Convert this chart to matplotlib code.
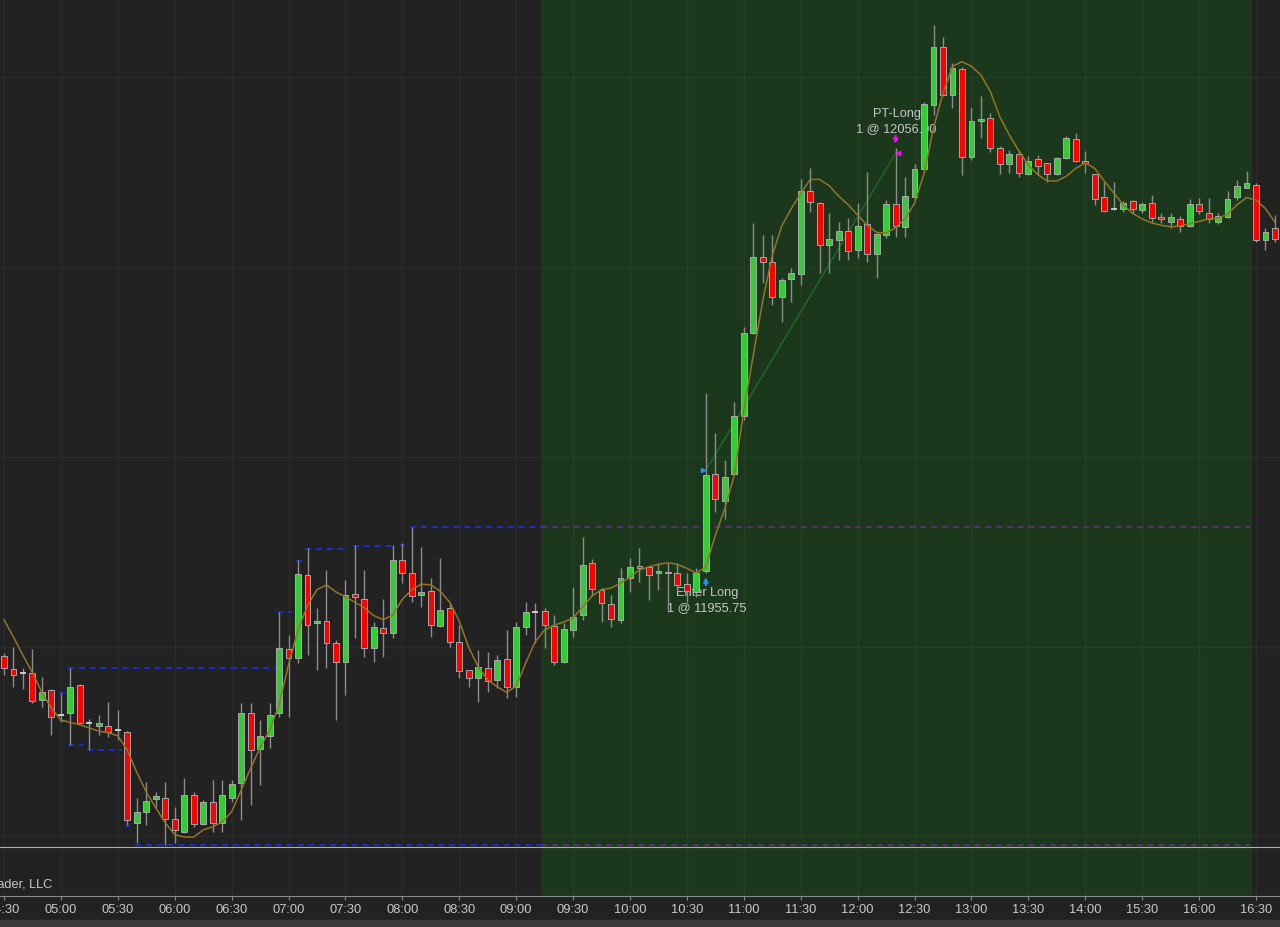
import numpy as np
import matplotlib.pyplot as plt

# 5-minute bars, OHLC
opens = [11897.0, 11893.0, 11891.75, 11891.75, 11883.0, 11886.25, 11878.25, 11879.0, 11887.75, 11875.75,
         11875.0, 11875.0, 11873.5, 11873.0, 11844.25, 11847.75, 11851.75, 11852.0, 11845.5, 11841.25,
         11853.0, 11844.0, 11850.75, 11844.25, 11852.0, 11856.75, 11879.0, 11867.5, 11871.75, 11879.0,
         11899.25, 11896.25, 11922.5, 11907.5, 11908.0, 11901.0, 11895.0, 11916.5, 11915.0, 11899.5,
         11906.0, 11904.25, 11927.25, 11923.25, 11916.25, 11917.5, 11906.5, 11912.25, 11901.5, 11892.5,
         11890.0, 11893.25, 11889.5, 11896.0, 11887.25, 11906.25, 11911.0, 11911.25, 11906.5, 11895.0,
         11905.25, 11910.0, 11926.5, 11918.0, 11913.5, 11908.5, 11921.75, 11925.5, 11925.25, 11923.25,
         11923.5, 11923.25, 11919.75, 11917.25, 11924.0, 11954.5, 11946.0, 11954.5, 11973.0, 11999.25,
         12023.25, 12021.75, 12010.5, 12016.25, 12017.75, 12044.0, 12040.25, 12027.0, 12028.5, 12031.5,
         12025.5, 12033.75, 12024.25, 12030.25, 12040.0, 12032.75, 12042.25, 12051.0, 12071.25, 12089.75,
         12074.5, 12082.75, 12054.75, 12066.25, 12067.25, 12057.75, 12052.75, 12055.75, 12049.5, 12054.25,
         12053.0, 12049.5, 12054.5, 12060.5, 12053.5, 12049.5, 12042.25, 12038.5, 12038.5, 12041.0,
         12038.0, 12040.25, 12035.75, 12034.25, 12035.25, 12033.0, 12040.0, 12037.25, 12034.25, 12035.75,
         12042.25, 12045.0, 12046.0, 12028.5, 12032.5]
highs = [11898.0, 11899.75, 11893.25, 11899.25, 11890.25, 11886.5, 11885.25, 11893.25, 11888.25, 11877.0,
         11878.25, 11882.5, 11880.0, 11873.25, 11852.0, 11857.25, 11854.0, 11857.25, 11849.25, 11858.5,
         11854.0, 11851.5, 11857.75, 11857.75, 11857.75, 11882.25, 11882.25, 11876.75, 11882.25, 11911.0,
         11903.75, 11927.25, 11931.25, 11912.25, 11924.25, 11902.0, 11921.0, 11932.0, 11924.25, 11907.75,
         11915.0, 11932.0, 11932.75, 11937.75, 11931.5, 11921.75, 11928.0, 11913.75, 11906.75, 11892.5,
         11899.0, 11898.25, 11897.25, 11905.25, 11907.75, 11914.0, 11913.75, 11912.25, 11910.0, 11907.5,
         11918.75, 11934.75, 11927.75, 11918.5, 11916.25, 11924.75, 11928.0, 11931.25, 11925.5, 11926.5,
         11926.5, 11926.5, 11923.25, 11924.75, 11980.25, 11967.5, 11959.0, 11977.25, 12001.0, 12034.0,
         12030.25, 12030.25, 12016.5, 12019.75, 12047.75, 12051.25, 12040.5, 12037.0, 12034.25, 12035.5,
         12040.25, 12050.0, 12030.75, 12041.25, 12057.75, 12048.5, 12052.75, 12072.25, 12096.5, 12092.75,
         12084.5, 12083.25, 12070.75, 12074.25, 12068.75, 12058.25, 12057.0, 12057.0, 12055.25, 12055.5,
         12053.0, 12054.75, 12061.5, 12062.5, 12056.75, 12049.5, 12047.0, 12047.0, 12041.0, 12041.25,
         12040.5, 12042.75, 12037.25, 12037.25, 12036.25, 12041.5, 12042.0, 12042.0, 12037.25, 12044.0,
         12047.5, 12050.5, 12046.5, 12032.5, 12036.5]
lows = [11891.0, 11887.25, 11886.5, 11882.25, 11881.0, 11872.0, 11876.0, 11869.0, 11875.5, 11867.25,
        11872.0, 11871.5, 11870.5, 11843.5, 11837.75, 11843.5, 11849.25, 11837.25, 11837.75, 11841.0,
        11843.0, 11843.5, 11841.25, 11841.25, 11850.75, 11845.25, 11850.0, 11856.25, 11868.0, 11877.75,
        11877.75, 11894.75, 11897.25, 11892.5, 11893.25, 11876.75, 11884.75, 11902.75, 11896.75, 11895.0,
        11896.75, 11902.75, 11920.0, 11914.0, 11912.5, 11903.0, 11906.25, 11899.75, 11890.0, 11887.25,
        11882.5, 11885.5, 11887.0, 11883.75, 11884.0, 11903.75, 11901.0, 11899.5, 11894.25, 11894.75,
        11903.0, 11908.5, 11916.25, 11907.75, 11906.25, 11907.5, 11917.25, 11920.5, 11914.75, 11918.0,
        11911.0, 11917.25, 11914.0, 11915.75, 11923.25, 11942.5, 11940.25, 11954.25, 11971.75, 11999.0,
        12015.0, 12008.0, 12002.75, 12009.0, 12014.25, 12037.5, 12018.25, 12018.25, 12022.25, 12022.25,
        12023.0, 12021.75, 12016.5, 12029.25, 12029.5, 12029.5, 12041.25, 12050.0, 12068.0, 12074.25,
        12070.25, 12049.25, 12054.0, 12060.75, 12056.5, 12049.5, 12049.75, 12048.5, 12049.25, 12049.25,
        12047.0, 12049.25, 12054.25, 12053.25, 12049.75, 12039.75, 12037.5, 12038.0, 12037.5, 12037.25,
        12037.25, 12034.0, 12034.0, 12032.5, 12031.0, 12032.75, 12036.75, 12034.0, 12033.75, 12035.5,
        12041.25, 12045.0, 12028.0, 12025.5, 12028.0]
closes = [11893.25, 11891.0, 11891.75, 11882.75, 11885.5, 11877.75, 11878.25, 11887.25, 11875.75, 11875.75,
          11875.75, 11873.0, 11873.5, 11845.25, 11847.75, 11851.25, 11852.75, 11845.5, 11842.0, 11853.0,
          11844.0, 11850.75, 11844.25, 11853.0, 11856.5, 11879.0, 11867.25, 11871.75, 11878.25, 11899.5,
          11896.25, 11923.0, 11906.75, 11908.0, 11901.0, 11895.0, 11916.25, 11915.75, 11899.5, 11906.25,
          11904.25, 11927.25, 11923.25, 11916.0, 11917.25, 11906.75, 11911.5, 11901.5, 11892.25, 11890.0,
          11893.5, 11889.0, 11895.75, 11887.25, 11906.25, 11911.0, 11911.0, 11906.75, 11895.0, 11905.5,
          11909.25, 11925.75, 11918.25, 11913.75, 11908.75, 11921.75, 11925.25, 11924.75, 11922.5, 11924.0,
          11923.25, 11919.5, 11917.5, 11923.25, 11954.25, 11946.75, 11953.5, 11973.0, 11999.25, 12023.25,
          12021.75, 12010.5, 12016.0, 12018.25, 12044.0, 12040.5, 12027.0, 12029.0, 12031.5, 12025.0,
          12033.0, 12024.25, 12030.5, 12040.0, 12033.0, 12042.5, 12051.0, 12071.5, 12089.75, 12074.5,
          12083.0, 12054.75, 12066.25, 12066.75, 12057.75, 12052.75, 12055.75, 12049.75, 12053.5, 12052.0,
          12049.5, 12054.5, 12060.75, 12053.5, 12053.0, 12041.5, 12037.75, 12038.5, 12040.25, 12038.5,
          12040.0, 12035.5, 12035.25, 12035.75, 12033.0, 12040.0, 12037.75, 12035.25, 12036.25, 12041.5,
          12045.75, 12046.5, 12028.5, 12031.0, 12029.0]

# moving average line as drawn on the chart
ma_values = [11908.5, 11903.0, 11897.25, 11891.75, 11885.5, 11880.5, 11876.75, 11876.0, 11875.25, 11874.25,
             11873.25, 11872.75, 11871.75, 11867.25, 11860.25, 11854.0, 11849.0, 11844.25, 11840.5, 11839.75,
             11839.75, 11842.0, 11843.0, 11844.5, 11847.75, 11854.5, 11861.5, 11868.0, 11873.5, 11881.5,
             11894.25, 11905.25, 11913.0, 11918.0, 11919.5, 11917.25, 11915.75, 11914.0, 11912.25, 11909.75,
             11908.5, 11910.0, 11915.0, 11918.0, 11919.75, 11919.5, 11917.5, 11914.0, 11908.0, 11899.75,
             11893.5, 11889.5, 11887.25, 11885.5, 11887.5, 11894.75, 11901.5, 11905.25, 11906.75, 11907.75,
             11909.0, 11912.5, 11916.0, 11918.0, 11918.5, 11920.0, 11922.0, 11924.25, 11925.25, 11926.0,
             11926.5, 11926.0, 11924.75, 11923.25, 11925.25, 11935.25, 11943.75, 11954.25, 11974.75, 11992.25,
             12009.5, 12023.75, 12033.0, 12038.5, 12043.25, 12047.75, 12047.75, 12045.75, 12042.5, 12039.75,
             12036.5, 12033.25, 12031.0, 12030.75, 12032.5, 12035.25, 12040.25, 12049.5, 12064.0, 12075.0,
             12083.5, 12085.0, 12083.5, 12080.75, 12075.5, 12067.5, 12061.75, 12056.75, 12052.25, 12049.25,
             12047.25, 12047.25, 12048.75, 12051.25, 12053.0, 12051.25, 12047.25, 12043.5, 12039.75, 12037.0,
             12035.25, 12034.0, 12033.25, 12032.75, 12033.0, 12033.75, 12034.5, 12035.25, 12035.5, 12036.75,
             12039.75, 12042.0, 12041.25, 12038.5, 12034.25]

time_labels = ['04:30', '05:00', '05:30', '06:00', '06:30', '07:00', '07:30', '08:00', '08:30', '09:00',
               '09:30', '10:00', '10:30', '11:00', '11:30', '12:00', '12:30', '13:00', '13:30', '14:00',
               '15:30', '16:00', '16:30']

# swing lines: (first bar, last bar, price)
swing_lines = [(5.8, 6.4, 11885.25), (5.8, 6.4, 11876.5), (6.7, 29.1, 11893.25), (6.7, 8.3, 11869.0),
               (8.8, 12.4, 11867.25), (12.8, 13.3, 11843.25), (13.8, 131.4, 11837.25), (28.8, 30.4, 11911.0),
               (30.8, 31.4, 11927.0), (31.7, 36.3, 11930.75), (36.8, 41.2, 11931.75), (41.8, 42.3, 11932.25),
               (42.8, 131.4, 11937.75)]

grid_prices = [11840, 11900, 11960, 12020, 12080]
session_start, session_end = 56.6, 131.55

entry_bar, entry_price = 74, 11955.75
exit_bar, exit_price = 94, 12056.00

BG = '#222222'
GREEN_BG = '#1c381c'
TXT = '#c8c8c8'

o = np.array(opens); h = np.array(highs); l = np.array(lows); c = np.array(closes)
x = np.arange(len(o))

fig = plt.figure(figsize=(12.8, 9.27), dpi=100, facecolor=BG)
fig.patches.append(plt.Rectangle((0, 0), 1, 7 / 927, transform=fig.transFigure,
                                 color='#3a3a3a', zorder=0))
ax = fig.add_axes([0, 31 / 927, 1, 896 / 927])
ax.set_facecolor(BG)
ax.set_xlim(-0.42, 134.53)
ax.set_ylim(11821.1, 12104.5)

ax.axvspan(session_start, session_end, color=GREEN_BG, zorder=0, lw=0)
for gp in grid_prices:
    ax.axhline(gp, color='white', alpha=0.04, lw=1, zorder=1)
ax.axhline(11836.5, color='#b0b0b0', lw=0.8, zorder=2)

# swing lines, blue on dark, purple inside the session shading
def draw_swing(x0, x1, y):
    parts = []
    if x0 < session_start:
        parts.append((x0, min(x1, session_start), '#1c2cc4'))
    if x1 > session_start:
        parts.append((max(x0, session_start), x1, '#5e2a74'))
    for a, b, col in parts:
        ax.plot([a, b], [y, y], color=col, lw=1.5, ls=(0, (3, 2.2)), zorder=2)

for x0, x1, y in swing_lines:
    draw_swing(x0, x1, y)

# candles
up = c > o
dn = c < o
flat = c == o
ax.vlines(x, l, h, color='#8c8c8c', lw=1, zorder=3)
ax.bar(x[up], (c - o)[up], bottom=o[up], width=0.62, color='#32cd32',
       edgecolor='#a8a8a8', lw=0.7, zorder=4)
ax.bar(x[dn], (o - c)[dn], bottom=c[dn], width=0.62, color='#ff0000',
       edgecolor='#a8a8a8', lw=0.7, zorder=4)
ax.hlines(c[flat], x[flat] - 0.32, x[flat] + 0.32, color='#d8d8d8', lw=1.3, zorder=4)

ax.plot(x, ma_values, color='#937526', lw=1.1, zorder=5)

# trade
ax.plot([entry_bar, exit_bar], [entry_price, exit_price], color='#1d6a28', lw=1, zorder=2)
ax.plot(entry_bar - 0.3, entry_price, marker='>', ms=3, color='#1e90ff', zorder=6)
ax.plot(exit_bar + 0.3, exit_price, marker='<', ms=3, color='#ff00ff', zorder=6)
ax.annotate('', xy=(entry_bar, lows[entry_bar]), xytext=(0, -12), textcoords='offset pixels',
            arrowprops=dict(arrowstyle='-|>', color='#1e90ff', lw=1.5, mutation_scale=6,
                            shrinkA=0, shrinkB=3), zorder=6)
ax.annotate('', xy=(exit_bar, highs[exit_bar]), xytext=(0, 12), textcoords='offset pixels',
            arrowprops=dict(arrowstyle='-|>', color='#ff00ff', lw=1.5, mutation_scale=6,
                            shrinkA=0, shrinkB=3), zorder=6)
ax.annotate('Enter Long', xy=(entry_bar, lows[entry_bar]), xytext=(1, -20), textcoords='offset pixels',
            ha='center', va='center', color=TXT, fontsize=9.2, family='Liberation Sans', zorder=2)
ax.annotate('1 @ %.2f' % entry_price, xy=(entry_bar, lows[entry_bar]), xytext=(1, -35),
            textcoords='offset pixels', ha='center', va='center', color=TXT, fontsize=9.2,
            family='Liberation Sans', zorder=2)
ax.annotate('PT-Long', xy=(exit_bar, highs[exit_bar]), xytext=(1, 34), textcoords='offset pixels',
            ha='center', va='center', color=TXT, fontsize=9.2, family='Liberation Sans', zorder=2)
ax.annotate('1 @ %.2f' % exit_price, xy=(exit_bar, highs[exit_bar]), xytext=(1, 19),
            textcoords='offset pixels', ha='center', va='center', color=TXT, fontsize=9.2,
            family='Liberation Sans', zorder=2)

ax.text(52 / 1280, 11 / 896, '\u00a9 2023 NinjaTrader, LLC', transform=ax.transAxes,
        ha='right', va='center', color=TXT, fontsize=9.2, family='Liberation Sans')

# axes styling
ax.set_xticks(np.arange(0, 6 * len(time_labels), 6))
ax.set_xticklabels(time_labels, family='Liberation Sans')
ax.set_yticks([])
ax.tick_params(axis='x', colors='#8a8a8a', labelcolor=TXT, labelsize=9.3, length=3, pad=3)
ax.grid(axis='x', color='white', alpha=0.04, lw=1)
ax.set_axisbelow(True)
for s in ['top', 'left', 'right']:
    ax.spines[s].set_visible(False)
ax.spines['bottom'].set_color('#8a8a8a')

fig.savefig('out.png', dpi=100, facecolor=BG)
